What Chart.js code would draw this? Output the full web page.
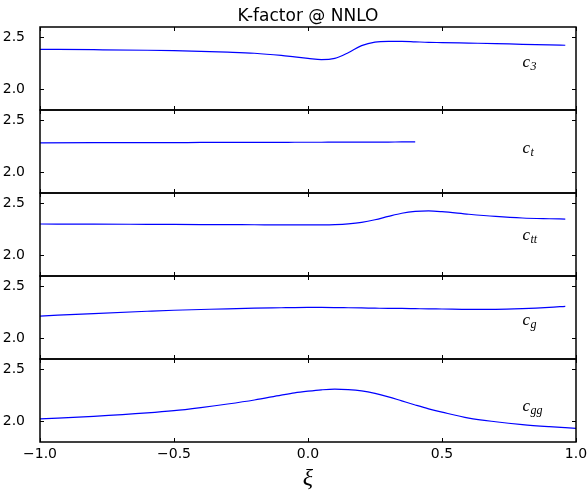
<!DOCTYPE html>
<html>
<head>
<meta charset="utf-8">
<script src="https://cdn.jsdelivr.net/npm/chart.js@4"></script>
<style>
  html, body { margin: 0; padding: 0; background: #fff; }
  #wrap { position: relative; width: 587px; height: 491px; }
  #wrap canvas { position: absolute; left: 0; top: 0; }
</style>
</head>
<body>
<div id="wrap"></div>
<script>
// xi grid shared by all curves (null = curve not computed there)
const xi = [-1.0, -0.8, -0.6, -0.5, -0.4, -0.3, -0.2, -0.1, -0.05, 0.0, 0.05, 0.1, 0.15,
            0.2, 0.25, 0.3, 0.35, 0.4, 0.45, 0.5, 0.6, 0.7, 0.8, 0.9, 0.96, 1.0];

const kC3  = [2.385, 2.381, 2.376, 2.372, 2.366, 2.358, 2.347, 2.326, 2.312, 2.298, 2.285, 2.298, 2.352,
              2.420, 2.455, 2.462, 2.462, 2.457, 2.452, 2.450, 2.445, 2.440, 2.433, 2.428, 2.424, null];
const kCt  = [2.284, 2.285, 2.286, 2.286, 2.287, 2.287, 2.288, 2.288, 2.289, 2.289, 2.289, 2.290, 2.290,
              2.290, 2.291, 2.291, 2.292, 2.292, null, null, null, null, null, null, null, null];
const kCtt = [2.301, 2.300, 2.298, 2.297, 2.296, 2.295, 2.294, 2.293, 2.292, 2.292, 2.293, 2.296, 2.303,
              2.317, 2.342, 2.375, 2.405, 2.422, 2.427, 2.420, 2.395, 2.374, 2.359, 2.352, 2.349, null];
const kCg  = [2.214, 2.238, 2.260, 2.270, 2.277, 2.284, 2.290, 2.294, 2.296, 2.297, 2.297, 2.296, 2.294,
              2.292, 2.290, 2.288, 2.287, 2.285, 2.283, 2.282, 2.279, 2.279, 2.285, 2.297, 2.308, null];
const kCgg = [2.022, 2.047, 2.080, 2.102, 2.132, 2.166, 2.205, 2.252, 2.274, 2.290, 2.303, 2.310, 2.305,
              2.292, 2.268, 2.235, 2.196, 2.157, 2.120, 2.088, 2.030, 1.995, 1.968, 1.948, 1.938, 1.932];

const series = [kC3, kCt, kCtt, kCg, kCgg];
const subscripts = ['3', 't', 'tt', 'g', 'gg'];
const labelAt = [2.21, 2.19, 2.15, 2.13, 2.10];   // K value where each c_i label sits
const labelXi = 0.8;

const xTicks = [-1.0, -0.5, 0.0, 0.5, 1.0];
const yTicks = [2.0, 2.5];
const title = 'K-factor @ NNLO';

const W = 587, H = 491;
const LEFT = 40, RIGHT = 576, TOP = 27, PANEL_H = 83;
const BOTTOM = TOP + PANEL_H * series.length;

Chart.defaults.font.family = '"DejaVu Sans", sans-serif';
Chart.defaults.font.size = 14;
Chart.defaults.color = '#000';

const fmt = v => (v < 0 ? '\u2212' : '') + Math.abs(v).toFixed(1);

// axes box, inward ticks on all four sides, the c_i tag and the title
const frame = {
  id: 'frame',
  afterDatasetsDraw(chart, args, opts) {
    const { ctx, chartArea: a, scales: { x, y } } = chart;
    ctx.save();
    ctx.strokeStyle = '#000';
    ctx.lineWidth = 1;
    ctx.beginPath();
    xTicks.forEach(v => {
      const px = Math.round(x.getPixelForValue(v)) + 0.5;
      ctx.moveTo(px, a.top); ctx.lineTo(px, a.top + 4);
      ctx.moveTo(px, a.bottom); ctx.lineTo(px, a.bottom - 4);
    });
    yTicks.forEach(v => {
      const py = Math.round(y.getPixelForValue(v)) + 0.5;
      ctx.moveTo(a.left, py); ctx.lineTo(a.left + 4, py);
      ctx.moveTo(a.right, py); ctx.lineTo(a.right - 4, py);
    });
    ctx.stroke();
    ctx.lineWidth = 1.5;
    ctx.strokeRect(a.left, a.top, a.right - a.left, a.bottom - a.top);

    // c_i tag
    const tx = x.getPixelForValue(labelXi);
    const ty = y.getPixelForValue(opts.tagAt);
    ctx.fillStyle = '#000';
    ctx.textAlign = 'left';
    ctx.textBaseline = 'alphabetic';
    ctx.font = 'italic 17px "Liberation Serif", serif';
    ctx.fillText('c', tx, ty);
    const cw = ctx.measureText('c').width;
    ctx.font = 'italic 12px "Liberation Serif", serif';
    ctx.fillText(opts.sub, tx + cw + 0.5, ty + 3);

    if (opts.title) {
      ctx.font = '17px "DejaVu Sans", sans-serif';
      ctx.textAlign = 'center';
      ctx.fillText(opts.title, (a.left + a.right) / 2, a.top - 6);
    }
    ctx.restore();
  }
};

const wrap = document.getElementById('wrap');

series.forEach((vals, i) => {
  const canvas = document.createElement('canvas');
  canvas.width = W;
  canvas.height = H;
  wrap.appendChild(canvas);

  const last = i === series.length - 1;
  const top = TOP + PANEL_H * i;

  new Chart(canvas, {
    type: 'line',
    data: {
      datasets: [{
        data: xi.map((v, k) => ({ x: v, y: vals[k] })),
        borderColor: '#0000ff',
        borderWidth: 1.2,
        pointRadius: 0,
        cubicInterpolationMode: 'monotone',
        spanGaps: false
      }]
    },
    options: {
      responsive: false,
      animation: false,
      devicePixelRatio: 1,
      layout: {
        padding: { left: 0, right: W - RIGHT, top: top, bottom: last ? 0 : H - top - PANEL_H }
      },
      plugins: {
        legend: { display: false },
        tooltip: { enabled: false },
        frame: { sub: subscripts[i], tagAt: labelAt[i], title: i === 0 ? title : null }
      },
      scales: {
        x: {
          type: 'linear',
          min: -1,
          max: 1,
          bounds: 'data',
          display: last,
          grid: { display: false },
          border: { display: false },
          afterBuildTicks: axis => { axis.ticks = xTicks.map(value => ({ value })); },
          ticks: { autoSkip: false, maxRotation: 0, padding: -4, callback: v => fmt(v) },
          title: {
            display: true,
            text: 'ξ',
            font: { family: '"Liberation Serif", serif', style: 'italic', size: 24 },
            padding: { top: 0, bottom: -2 }
          },
          afterFit: axis => {
            axis.height = last ? H - BOTTOM : 0;
            axis.paddingLeft = 0;
            axis.paddingRight = 0;
          }
        },
        y: {
          type: 'linear',
          min: 1.8,
          max: 2.6,
          bounds: 'data',
          grid: { display: false },
          border: { display: false },
          afterBuildTicks: axis => { axis.ticks = yTicks.map(value => ({ value })); },
          ticks: { padding: 7, callback: v => fmt(v) },
          afterFit: axis => {
            axis.width = LEFT;
            axis.paddingTop = 0;
            axis.paddingBottom = 0;
          }
        }
      }
    },
    plugins: [frame]
  });
});
</script>
</body>
</html>
